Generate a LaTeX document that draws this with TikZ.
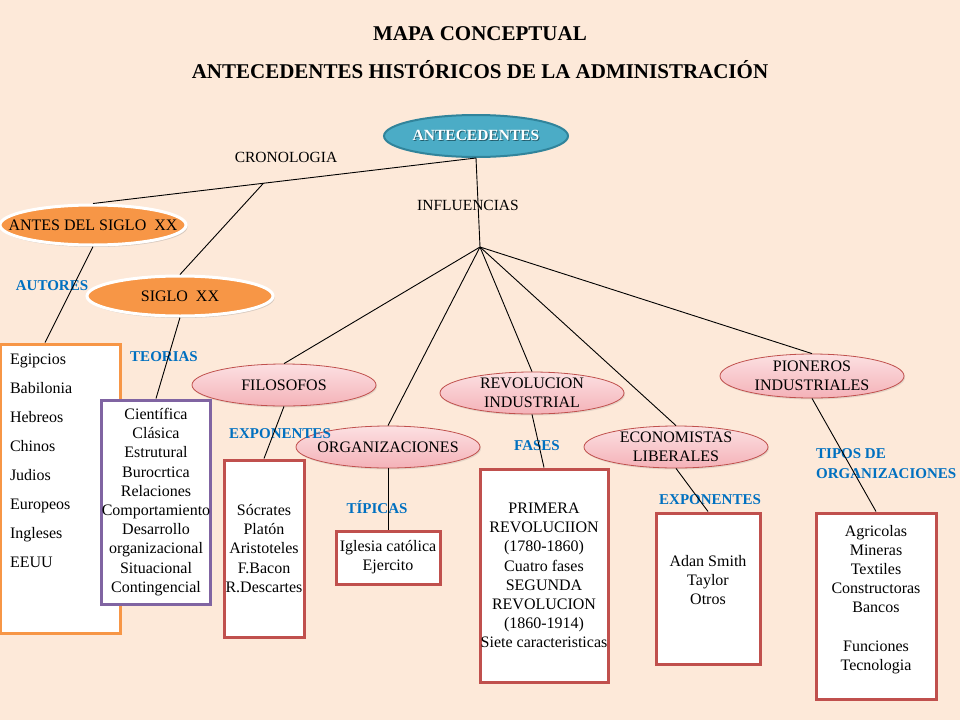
\documentclass[tikz,border=0pt]{standalone}
\usepackage{fontspec}
\setmainfont{Liberation Serif}
\usepackage{xcolor}
\usepackage{tikz}
\usetikzlibrary{
  shapes.geometric,
  shadows,
  calc
}
\definecolor{mpbg}     {HTML}{FDE9D9}
\definecolor{mpteal}   {HTML}{4BACC6}
\definecolor{mptealdk} {HTML}{31849B}
\definecolor{mporange} {HTML}{F79646}
\definecolor{mppurple} {HTML}{8064A2}
\definecolor{mpred}    {HTML}{C0504D}
\definecolor{mppinktop}{HTML}{FCE0E2}
\definecolor{mppinkbot}{HTML}{F4B2B8}
\definecolor{mpblue}   {HTML}{0070C0}
\newcommand{\embossed}[1]{\makebox[0pt][l]{\hspace{1pt}\raisebox{-1pt}{\textcolor{mptealdk!70!black}{#1}}}#1}

\begin{document}
\begin{tikzpicture}[x=1pt, y=-1pt,
  every node/.style={font=\fontsize{16}{19.2}\selectfont},
  root/.style={ellipse, draw=mptealdk, line width=2pt, fill=mpteal,
               minimum width=184pt, minimum height=42pt, inner xsep=-12pt, inner ysep=0pt,
               text=white, font=\bfseries\fontsize{15.5}{18}\selectfont},
  era/.style={ellipse, draw=white, line width=3pt, fill=mporange,
              minimum width=186pt, minimum height=40pt, inner xsep=-20pt, inner ysep=0pt,
              drop shadow={shadow xshift=1.5pt, shadow yshift=-2pt, opacity=0.3}},
  infl/.style={ellipse, draw=mpred, line width=0.8pt,
               top color=mppinktop, bottom color=mppinkbot,
               minimum width=184pt, minimum height=42pt, inner xsep=-12pt, inner ysep=-5pt,
               align=center,
               drop shadow={shadow xshift=1pt, shadow yshift=-1.5pt, opacity=0.2}},
  listbox/.style={rectangle, draw=mpred, line width=3pt, fill=white,
                  inner sep=0pt, align=center},
  lbl/.style={text=mpblue, font=\bfseries\fontsize{15}{20}\selectfont, inner sep=0pt},
  link/.style={font=\fontsize{15.5}{18}\selectfont, inner sep=0pt},
  conn/.style={line width=0.9pt},
]
\fill[mpbg] (0,0) rectangle (960,720);
\useasboundingbox (0,0) rectangle (960,720);

% titulo
\node[anchor=base, inner sep=0pt, font=\bfseries\fontsize{21}{25}\selectfont] (title) at (480,40) {MAPA CONCEPTUAL};
\node[anchor=base, inner sep=0pt, font=\bfseries\fontsize{21}{25}\selectfont] (subtitle) at (480,78) {ANTECEDENTES HISTÓRICOS DE LA ADMINISTRACIÓN};

% raiz y ramas
\node[root] (ante) at (476,136) {\embossed{ANTECEDENTES}};
\node[link, anchor=base] (cronlbl) at (286,162) {CRONOLOGIA};
\node[link, anchor=base] (infllbl) at (468,210) {INFLUENCIAS};

\node[era] (antes) at (93,225) {ANTES DEL SIGLO\ \ XX};
\node[era] (siglo) at (180,296) {SIGLO\ \ XX};

\node[infl] (filo) at (284,385) {FILOSOFOS};
\node[infl] (orgs) at (388,447) {ORGANIZACIONES};
\node[infl] (revo) at (532,393) {REVOLUCION\\INDUSTRIAL};
\node[infl] (econ) at (676,447) {ECONOMISTAS\\LIBERALES};
\node[infl, minimum height=44pt] (pion) at (812,376) {PIONEROS\\INDUSTRIALES};

% etiquetas
\node[lbl, anchor=base] (autlbl) at (52,290) {AUTORES};
\node[lbl, anchor=base] (teolbl) at (164,361) {TEORIAS};
\node[lbl, anchor=base] (expolbl) at (280,438) {EXPONENTES};
\node[lbl, anchor=base] (tiplbl) at (377,513) {TÍPICAS};
\node[lbl, anchor=base] (faslbl) at (537,450) {FASES};
\node[lbl, anchor=base] (expelbl) at (710,504) {EXPONENTES};
\node[lbl, anchor=north west, align=left] (tiposlbl) at (816,448) {TIPOS DE\\ORGANIZACIONES};

% cajas
\node[listbox, draw=mporange, minimum width=120pt, minimum height=289pt] (autbox) at (60,488.5)
  {\parbox[c][289pt][t]{120pt}{\fontsize{16}{29}\selectfont\raggedright\leftskip=10pt
   \vspace*{10pt}Egipcios\\Babilonia\\Hebreos\\Chinos\\Judios\\Europeos\\Ingleses\\EEUU}};
\node[listbox, draw=mppurple, minimum width=104pt, minimum height=204pt] (teobox) at (156,502)
  {Científica\\Clásica\\Estrutural\\Burocrtica\\Relaciones\\Comportamiento\\Desarrollo\\organizacional\\Situacional\\Contingencial};
\node[listbox, minimum width=80pt, minimum height=177pt] (filobox) at (264,548.5)
  {Sócrates\\Platón\\Aristoteles\\F.Bacon\\R.Descartes};
\node[listbox, minimum width=104pt, minimum height=53pt] (orgbox) at (388,557.5)
  {Iglesia católica\\Ejercito};
\node[listbox, minimum width=128pt, minimum height=213pt] (revbox) at (544,575.5)
  {PRIMERA\\REVOLUCIION\\(1780-1860)\\Cuatro fases\\SEGUNDA\\REVOLUCION\\(1860-1914)\\Siete caracteristicas};
\node[listbox, minimum width=104pt, minimum height=151pt] (econbox) at (708,588.5)
  {\parbox[c][151pt][t]{104pt}{\centering\vspace*{42pt}Adan Smith\\Taylor\\Otros}};
\node[listbox, minimum width=120pt, minimum height=186pt] (pionbox) at (876,606)
  {\parbox[c][186pt][t]{120pt}{\centering\vspace*{12pt}Agricolas\\Mineras\\Textiles\\Constructoras\\Bancos\\[19.2pt]Funciones\\Tecnologia}};

% conectores
\coordinate (cron) at ($(ante.south)!0.555!(antes.north)$);
\coordinate (hub) at (480,247);
\draw[conn] (ante.south) -- (antes.north);
\draw[conn] (cron) -- (siglo.north);
\draw[conn] (ante.south) -- (hub);
\foreach \n in {filo,orgs,revo,econ,pion}
  \draw[conn] (hub) -- (\n.north);
\draw[conn] (antes.south) -- ([xshift=-15pt]autbox.north);
\draw[conn] (siglo.south) -- (teobox.north);
\draw[conn] (filo.south) -- (filobox.north);
\draw[conn] (orgs.south) -- (orgbox.north);
\draw[conn] (revo.south) -- (revbox.north);
\draw[conn] (econ.south) -- (econbox.north);
\draw[conn] (pion.south) -- (pionbox.north);
\end{tikzpicture}
\end{document}
